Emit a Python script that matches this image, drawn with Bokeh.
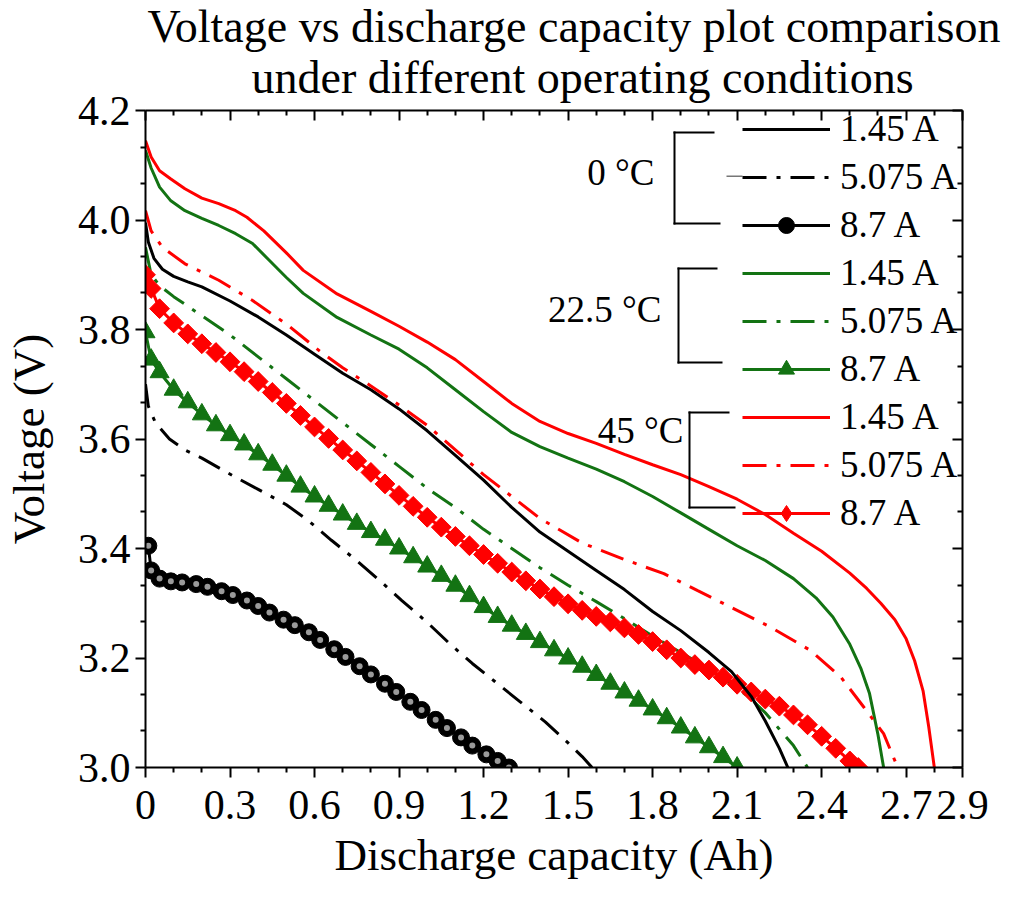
import numpy as np
from bokeh.plotting import figure
from bokeh.models import (Range1d, LinearAxis, FixedTicker, Legend, LegendItem,
                          Label, BoxAnnotation, Title)
from bokeh.embed import file_html
from bokeh.resources import INLINE

# ---------------- data ----------------
# 0 degC
c0_145_x = [0, 0.01, 0.03, 0.06, 0.1, 0.15, 0.2, 0.3, 0.4, 0.5, 0.6, 0.7, 0.8, 0.9, 1.0,
            1.1, 1.2, 1.3, 1.4, 1.5, 1.6, 1.7, 1.8, 1.9, 2.0, 2.08, 2.15, 2.2, 2.25, 2.28]
c0_145_v = [3.995, 3.96, 3.93, 3.91, 3.897, 3.887, 3.878, 3.852, 3.823, 3.79, 3.755, 3.72,
            3.69, 3.655, 3.615, 3.57, 3.525, 3.475, 3.43, 3.395, 3.36, 3.325, 3.285, 3.25,
            3.21, 3.175, 3.13, 3.085, 3.035, 3.0]
c0_5075_x = [0, 0.01, 0.035, 0.085, 0.14, 0.2, 0.32, 0.4, 0.5, 0.58, 0.66, 0.745, 0.83,
             0.91, 1.0, 1.08, 1.16, 1.24, 1.33, 1.42, 1.5, 1.55, 1.585]
c0_5075_v = [3.70, 3.66, 3.63, 3.60, 3.58, 3.565, 3.53, 3.508, 3.48, 3.45, 3.415, 3.38,
             3.342, 3.305, 3.265, 3.226, 3.19, 3.157, 3.12, 3.083, 3.045, 3.02, 3.0]
c0_87_x = [0.01, 0.02, 0.05, 0.09, 0.13, 0.18, 0.22, 0.27, 0.31, 0.36, 0.40, 0.44, 0.49,
           0.53, 0.58, 0.62, 0.67, 0.71, 0.76, 0.80, 0.85, 0.89, 0.94, 0.98, 1.03, 1.07,
           1.12, 1.16, 1.21, 1.25, 1.29]
c0_87_v = [3.405, 3.36, 3.345, 3.34, 3.338, 3.335, 3.33, 3.322, 3.315, 3.305, 3.295, 3.283,
           3.27, 3.26, 3.247, 3.233, 3.216, 3.202, 3.185, 3.170, 3.153, 3.138, 3.12, 3.105,
           3.087, 3.072, 3.055, 3.04, 3.024, 3.012, 3.0]
# 22.5 degC
c22_145_x = [0, 0.02, 0.05, 0.09, 0.14, 0.2, 0.26, 0.32, 0.38, 0.44, 0.5, 0.56, 0.68, 0.8,
             0.9, 1.0, 1.1, 1.2, 1.3, 1.4, 1.5, 1.6, 1.7, 1.8, 1.9, 2.0, 2.1, 2.2, 2.3,
             2.38, 2.44, 2.5, 2.54, 2.57, 2.6, 2.62]
c22_145_v = [4.127, 4.095, 4.06, 4.035, 4.017, 4.003, 3.99, 3.975, 3.957, 3.926, 3.895,
             3.866, 3.822, 3.79, 3.764, 3.73, 3.69, 3.65, 3.612, 3.586, 3.565, 3.545, 3.522,
             3.495, 3.465, 3.435, 3.405, 3.378, 3.345, 3.31, 3.275, 3.225, 3.18, 3.135,
             3.06, 3.0]
c22_5075_x = [0, 0.02, 0.05, 0.1, 0.2, 0.3, 0.4, 0.5, 0.6, 0.7, 0.8, 0.9, 1.0, 1.1, 1.2,
              1.3, 1.4, 1.5, 1.6, 1.7, 1.8, 1.9, 2.0, 2.1, 2.15, 2.2, 2.25, 2.3, 2.35]
c22_5075_v = [3.95, 3.9, 3.88, 3.86, 3.825, 3.79, 3.75, 3.71, 3.67, 3.63, 3.59, 3.55, 3.51,
              3.475, 3.435, 3.40, 3.365, 3.333, 3.303, 3.272, 3.24, 3.21, 3.18, 3.145,
              3.125, 3.1, 3.07, 3.04, 3.0]
c22_87_x = [0, 0.02, 0.05, 0.10, 0.15, 0.20, 0.25, 0.30, 0.35, 0.40, 0.45, 0.50, 0.55,
            0.60, 0.65, 0.70, 0.75, 0.80, 0.85, 0.90, 0.95, 1.00, 1.05, 1.10, 1.15, 1.20,
            1.25, 1.30, 1.35, 1.40, 1.45, 1.50, 1.55, 1.60, 1.65, 1.70, 1.75, 1.80, 1.85,
            1.90, 1.95, 2.00, 2.05, 2.10]
c22_87_v = [3.795, 3.745, 3.722, 3.69, 3.667, 3.645, 3.625, 3.607, 3.59, 3.572, 3.553,
            3.533, 3.513, 3.495, 3.478, 3.462, 3.445, 3.43, 3.416, 3.40, 3.384, 3.367, 3.35,
            3.332, 3.313, 3.293, 3.275, 3.259, 3.244, 3.229, 3.214, 3.199, 3.184, 3.169,
            3.153, 3.137, 3.122, 3.106, 3.09, 3.073, 3.055, 3.037, 3.019, 3.0]
# 45 degC
c45_145_x = [0, 0.02, 0.05, 0.09, 0.14, 0.2, 0.26, 0.32, 0.36, 0.42, 0.5, 0.56, 0.68, 0.8,
             0.9, 1.0, 1.1, 1.2, 1.3, 1.4, 1.5, 1.6, 1.7, 1.8, 1.9, 2.0, 2.1, 2.2, 2.3,
             2.4, 2.5, 2.56, 2.61, 2.66, 2.7, 2.73, 2.76, 2.78, 2.8]
c45_145_v = [4.145, 4.115, 4.09, 4.075, 4.057, 4.04, 4.03, 4.017, 4.005, 3.98, 3.94, 3.908,
             3.865, 3.833, 3.806, 3.777, 3.745, 3.705, 3.665, 3.632, 3.61, 3.592, 3.572,
             3.553, 3.535, 3.513, 3.49, 3.462, 3.428, 3.395, 3.355, 3.327, 3.3, 3.27,
             3.235, 3.195, 3.14, 3.075, 3.0]
c45_5075_x = [0, 0.02, 0.06, 0.14, 0.26, 0.38, 0.5, 0.62, 0.7, 0.8, 0.9, 1.0, 1.1, 1.2,
              1.3, 1.4, 1.55, 1.7, 1.84, 1.96, 2.1, 2.22, 2.36, 2.47, 2.55, 2.62, 2.67]
c45_5075_v = [4.017, 3.98, 3.95, 3.92, 3.89, 3.853, 3.81, 3.76, 3.73, 3.697, 3.662, 3.625,
              3.58, 3.535, 3.495, 3.455, 3.41, 3.38, 3.354, 3.323, 3.287, 3.256, 3.214,
              3.164, 3.11, 3.062, 3.0]
c45_87_x = [0.00, 0.02, 0.05, 0.10, 0.15, 0.20, 0.25, 0.30, 0.35, 0.40, 0.45, 0.50, 0.55,
            0.60, 0.65, 0.70, 0.75, 0.80, 0.85, 0.90, 0.95, 1.00, 1.05, 1.10, 1.15, 1.20,
            1.25, 1.30, 1.35, 1.40, 1.45, 1.50, 1.55, 1.60, 1.65, 1.70, 1.75, 1.80, 1.85,
            1.90, 1.95, 2.00, 2.05, 2.10, 2.15, 2.20, 2.25, 2.30, 2.35, 2.40, 2.45, 2.50,
            2.53]
c45_87_v = [3.900, 3.875, 3.838, 3.812, 3.792, 3.774, 3.758, 3.741, 3.723, 3.705, 3.685,
            3.665, 3.643, 3.622, 3.601, 3.580, 3.560, 3.539, 3.518, 3.497, 3.477, 3.457,
            3.439, 3.422, 3.405, 3.389, 3.373, 3.357, 3.341, 3.326, 3.312, 3.299, 3.287,
            3.276, 3.266, 3.255, 3.243, 3.230, 3.215, 3.200, 3.188, 3.178, 3.165, 3.152,
            3.138, 3.125, 3.112, 3.096, 3.078, 3.057, 3.035, 3.012, 3.000]

x_ticks = [0, 0.3, 0.6, 0.9, 1.2, 1.5, 1.8, 2.1, 2.4, 2.7, 2.9]
x_tick_labels = ["0", "0.3", "0.6", "0.9", "1.2", "1.5", "1.8", "2.1", "2.4", "2.7", "2.9"]
x_minor = [0.1, 0.2, 0.4, 0.5, 0.7, 0.8, 1.0, 1.1, 1.3, 1.4, 1.6, 1.7, 1.9, 2.0, 2.2, 2.3,
           2.5, 2.6, 2.8]
y_ticks = [3.0, 3.2, 3.4, 3.6, 3.8, 4.0, 4.2]
y_tick_labels = ["3.0", "3.2", "3.4", "3.6", "3.8", "4.0", "4.2"]
y_minor = [3.0667, 3.1333, 3.2667, 3.3333, 3.4667, 3.5333, 3.6667, 3.7333, 3.8667,
           3.9333, 4.0667, 4.1333]

current_labels = ["1.45 A", "5.075 A", "8.7 A"]
group_labels = ["0 \u00b0C", "22.5 \u00b0C", "45 \u00b0C"]
title_lines = ["Voltage vs discharge capacity plot comparison",
               "under different operating conditions"]

# ---------------- styling ----------------
FONT = "Liberation Serif"
BLACK = "#000000"
GREEN = "#137313"
RED = "#ff0000"
DASH = "24 10 4 10"

# reference frame: left 143, right 962, top 110, bottom 767 (window px)
FL, FB = 143, 767
def sx(X):
    return X - FL
def sy(Y):
    return FB - Y

p = figure(width=1010, height=891, x_range=Range1d(0, 2.9), y_range=Range1d(3.0, 4.2),
           output_backend="svg", toolbar_location=None, x_axis_type=None, y_axis_type=None,
           title_location=None,
           min_border_left=143, min_border_right=48, min_border_top=110,
           min_border_bottom=124)
p.grid.visible = False
p.outline_line_color = None
p.background_fill_color = "white"
p.border_fill_color = "white"

xt = FixedTicker(ticks=x_ticks, minor_ticks=x_minor)
yt = FixedTicker(ticks=y_ticks, minor_ticks=y_minor)

def style_axis(ax, outside):
    ax.axis_line_width = 2
    ax.major_tick_line_width = 2
    ax.minor_tick_line_width = 2
    if outside:
        ax.major_tick_out, ax.major_tick_in = 10, 0
        ax.minor_tick_out, ax.minor_tick_in = 5, 0
    else:
        ax.major_tick_out, ax.major_tick_in = 0, 10
        ax.minor_tick_out, ax.minor_tick_in = 0, 5
    ax.major_label_text_font = FONT
    ax.major_label_text_font_size = "42px"
    ax.major_label_text_color = "black"
    ax.axis_label_text_font = FONT
    ax.axis_label_text_font_size = "45px"
    ax.axis_label_text_font_style = "normal"
    ax.axis_label_text_color = "black"

xb = LinearAxis(ticker=xt, axis_label="Discharge capacity (Ah)",
                major_label_overrides={t: l for t, l in zip(x_ticks, x_tick_labels)})
style_axis(xb, True)
xb.major_label_standoff = 13
xb.axis_label_standoff = 8
p.add_layout(xb, "below")

yl = LinearAxis(ticker=yt, axis_label="Voltage (V)",
                major_label_overrides={t: l for t, l in zip(y_ticks, y_tick_labels)})
style_axis(yl, True)
yl.major_label_standoff = 5
yl.axis_label_standoff = 21
p.add_layout(yl, "left")

# mirror axes (ticks only, no labels)
xa = LinearAxis(ticker=xt, major_label_overrides={t: "" for t in x_ticks})
style_axis(xa, False)
xa.major_label_text_font_size = "1px"
xa.major_label_standoff = 0
p.add_layout(xa, "above")
yr = LinearAxis(ticker=yt, major_label_overrides={t: "" for t in y_ticks})
style_axis(yr, False)
yr.major_label_text_font_size = "1px"
yr.major_label_standoff = 0
p.add_layout(yr, "right")

# title: second line nearest the frame, first line on top
for txt, off, so in [(title_lines[1], 106, 15), (title_lines[0], 2, -18)]:
    p.add_layout(Title(text=txt, align="left", offset=off, standoff=so, text_font=FONT,
                       text_font_size="46px", text_font_style="normal",
                       text_color="black"), "above")

# ---------------- curves ----------------
LW = 3
r0c_l = p.line(c0_87_x, c0_87_v, line_color=BLACK, line_width=LW)
r0c_m = p.scatter(c0_87_x, c0_87_v, marker="circle", size=17, fill_color=BLACK,
                  line_color=BLACK)
p.scatter(c0_87_x, c0_87_v, marker="circle", size=6, fill_color="#9a9a9a",
          line_color=None)
r22t_l = p.line(c22_87_x, c22_87_v, line_color=GREEN, line_width=LW)
r22t_m = p.scatter(c22_87_x, c22_87_v, marker="triangle", size=19, fill_color=GREEN,
                   line_color=GREEN)
r22d = p.line(c22_5075_x, c22_5075_v, line_color=GREEN, line_width=LW, line_dash=DASH)
r45d_l = p.line(c45_87_x, c45_87_v, line_color=RED, line_width=LW)
# diamond glyph (shown in the legend), covered on the curve by tilted squares
r45d_m = p.scatter(c45_87_x, c45_87_v, marker="diamond", size=18,
                   fill_color=RED, line_color=RED)
p.scatter(c45_87_x, c45_87_v, marker="square", size=14, angle=np.pi / 4,
          fill_color=RED, line_color=RED)
r0d = p.line(c0_5075_x, c0_5075_v, line_color=BLACK, line_width=LW, line_dash=DASH)
r0s = p.line(c0_145_x, c0_145_v, line_color=BLACK, line_width=LW)
r22s = p.line(c22_145_x, c22_145_v, line_color=GREEN, line_width=LW)
r45dd = p.line(c45_5075_x, c45_5075_v, line_color=RED, line_width=LW, line_dash=DASH)
r45s = p.line(c45_145_x, c45_145_v, line_color=RED, line_width=LW)

# ---------------- legend ----------------
items = [
    LegendItem(label=current_labels[0], renderers=[r0s]),
    LegendItem(label=current_labels[1], renderers=[r0d]),
    LegendItem(label=current_labels[2], renderers=[r0c_l, r0c_m]),
    LegendItem(label=current_labels[0], renderers=[r22s]),
    LegendItem(label=current_labels[1], renderers=[r22d]),
    LegendItem(label=current_labels[2], renderers=[r22t_l, r22t_m]),
    LegendItem(label=current_labels[0], renderers=[r45s]),
    LegendItem(label=current_labels[1], renderers=[r45dd]),
    LegendItem(label=current_labels[2], renderers=[r45d_l, r45d_m]),
]
leg = Legend(items=items, location=(sx(740), 233), orientation="vertical",
             glyph_width=88, glyph_height=40, label_height=40, spacing=5, padding=0,
             margin=0, label_standoff=10, border_line_color=None,
             background_fill_alpha=0, label_text_font=FONT,
             label_text_font_size="37px", label_text_color="black")
p.add_layout(leg, "center")

# thin grey stub left of the 0 degC 5.075 A legend line
p.add_layout(BoxAnnotation(left=sx(724), right=sx(740), top=sy(175), bottom=sy(176.5),
                           left_units="screen", right_units="screen", top_units="screen",
                           bottom_units="screen", fill_color="#777777", fill_alpha=1,
                           line_color=None))

# brackets: (x of vertical, y top, y bottom, top arm end, bottom arm end)
brackets = [(672, 132, 223, 712, 718), (676, 268, 362, 715, 720), (687, 412, 507, 727, 733)]
for (bx, bt, bb, ta, ba) in brackets:
    for (l, r, t, b) in [(bx - 1, bx + 1, bt - 1, bb + 1), (bx - 1, ta, bt - 1, bt + 1),
                         (bx - 1, ba, bb - 1, bb + 1)]:
        p.add_layout(BoxAnnotation(left=sx(l), right=sx(r), top=sy(t), bottom=sy(b),
                                   left_units="screen", right_units="screen",
                                   top_units="screen", bottom_units="screen",
                                   fill_color="black", fill_alpha=1, line_color=None))

# group labels (right edge, baseline)
group_pos = [(652, 172), (659, 309), (681, 430)]
for txt, (gx, gy) in zip(group_labels, group_pos):
    p.add_layout(Label(x=sx(gx), y=sy(gy), x_units="screen", y_units="screen", text=txt,
                       text_align="right", text_baseline="alphabetic", text_font=FONT,
                       text_font_size="37px", text_color="black"))

open("out.html", "w").write(file_html(p, INLINE))
